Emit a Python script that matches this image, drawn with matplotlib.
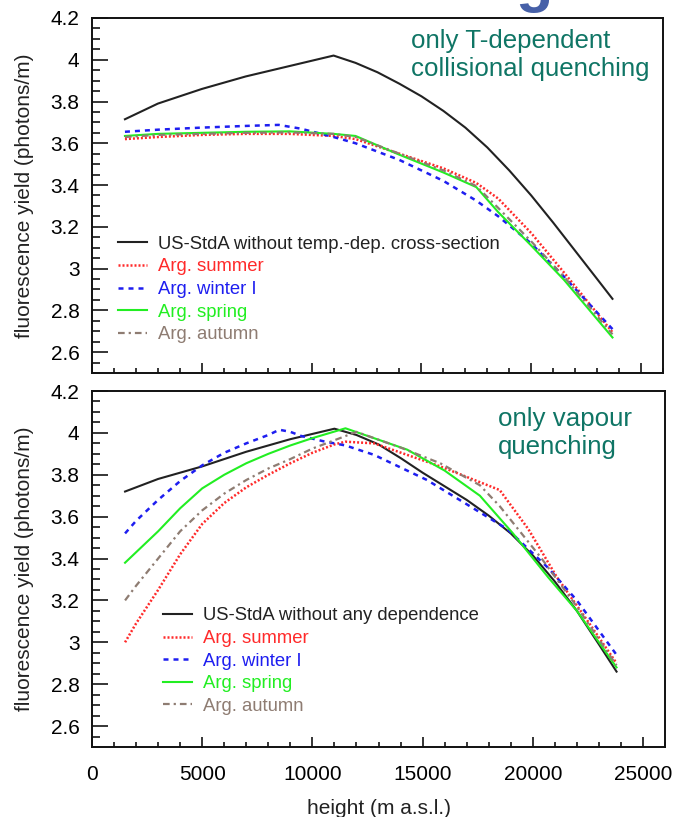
import matplotlib.pyplot as plt
import numpy as np

plt.rcParams['font.family'] = ['Liberation Sans', 'DejaVu Sans']

# --- top panel: only T-dependent collisional quenching ---
top_black_h = [1500, 3000, 5000, 7000, 9000, 11000, 12000, 13000, 14000, 15000, 16000, 17000,
               18000, 19000, 20000, 21000, 22000, 23000, 23700]
top_black_y = [3.715, 3.79, 3.86, 3.92, 3.97, 4.02, 3.985, 3.94, 3.885, 3.825, 3.755, 3.675,
               3.58, 3.47, 3.35, 3.22, 3.085, 2.95, 2.855]

top_h = [1500, 3000, 5000, 7000, 9000, 11000, 12000, 14000, 16000, 17500, 18500, 20000, 21500, 23700]
top_summer = [3.62, 3.63, 3.64, 3.645, 3.645, 3.635, 3.62, 3.55, 3.48, 3.41, 3.335, 3.17, 2.98, 2.695]
top_spring = [3.635, 3.645, 3.65, 3.655, 3.657, 3.645, 3.635, 3.545, 3.46, 3.39, 3.27, 3.11, 2.945, 2.67]
top_autumn = [3.63, 3.64, 3.645, 3.65, 3.652, 3.645, 3.63, 3.55, 3.47, 3.395, 3.29, 3.13, 2.96, 2.685]

top_winter_h = [1500, 3000, 5000, 7000, 8500, 9500, 11000, 12000, 14000, 16000, 17500, 18500, 20000, 21500, 23700]
top_winter = [3.655, 3.665, 3.675, 3.683, 3.688, 3.67, 3.63, 3.60, 3.52, 3.42, 3.325, 3.25, 3.12, 2.96, 2.71]

# --- bottom panel: only vapour quenching ---
bot_black_h = [1500, 3000, 5000, 7000, 9000, 11000, 12000, 13000, 14000, 15000, 16000, 17000,
               18000, 19000, 20000, 21000, 22000, 23000, 23800]
bot_black_y = [3.72, 3.78, 3.84, 3.91, 3.97, 4.02, 3.99, 3.945, 3.88, 3.81, 3.745, 3.68,
               3.605, 3.52, 3.415, 3.29, 3.15, 2.99, 2.86]

bot_summer_h = [1500, 2000, 3000, 4000, 5000, 6000, 7000, 8000, 9000, 10000, 11000, 11500,
                12800, 15800, 18500, 19800, 21100, 22500, 23800]
bot_summer = [3.00, 3.09, 3.25, 3.42, 3.565, 3.665, 3.74, 3.80, 3.855, 3.905, 3.945, 3.958,
              3.95, 3.84, 3.727, 3.54, 3.31, 3.10, 2.90]

bot_winter_h = [1500, 2000, 3000, 4000, 5000, 6000, 7000, 8000, 8500, 9000, 9500, 10500,
                11500, 12800, 15200, 17300, 18850, 20700, 22000, 23800]
bot_winter = [3.52, 3.58, 3.68, 3.77, 3.845, 3.905, 3.95, 3.99, 4.015, 4.005, 3.985, 3.96,
              3.94, 3.895, 3.775, 3.64, 3.54, 3.355, 3.20, 2.94]

bot_spring_h = [1500, 2000, 3000, 4000, 5000, 6000, 7000, 8000, 9000, 10000, 11500, 14300,
                16000, 17600, 19100, 20700, 22000, 23800]
bot_spring = [3.38, 3.43, 3.53, 3.64, 3.735, 3.80, 3.855, 3.90, 3.94, 3.975, 4.022, 3.92,
              3.82, 3.70, 3.52, 3.31, 3.15, 2.88]

bot_autumn_h = [1500, 2000, 3000, 4000, 5000, 6000, 7000, 8000, 9000, 10000, 11000, 12000,
                14000, 15800, 17600, 18500, 20400, 22000, 23800]
bot_autumn = [3.20, 3.27, 3.40, 3.53, 3.63, 3.71, 3.775, 3.83, 3.875, 3.925, 3.965, 4.005,
              3.93, 3.855, 3.75, 3.65, 3.40, 3.17, 2.89]

top_labels = ['US-StdA without temp.-dep. cross-section', 'Arg. summer', 'Arg. winter I',
              'Arg. spring', 'Arg. autumn']
bot_labels = ['US-StdA without any dependence', 'Arg. summer', 'Arg. winter I',
              'Arg. spring', 'Arg. autumn']

c_black = '#222222'
c_red = '#FF2A2A'
c_blue = '#1E1EF0'
c_green = '#22EE22'
c_gray = '#8E7C72'
c_teal = '#0F7565'

sty = {
    'black': dict(color=c_black, lw=1.5, ls='-'),
    'summer': dict(color=c_red, lw=1.8, ls=(0, (0.8, 0.8))),
    'winter': dict(color=c_blue, lw=1.8, ls=(0, (2, 2))),
    'spring': dict(color=c_green, lw=1.5, ls='-'),
    'autumn': dict(color=c_gray, lw=1.6, ls=(0, (3, 1.8, 1, 1.8))),
}

fig = plt.figure(figsize=(6.83, 8.17), dpi=100)
ax1 = fig.add_axes([0.1347, 0.5435, 0.836, 0.4345])
ax2 = fig.add_axes([0.1347, 0.0857, 0.839, 0.4357])


def style_ax(ax):
    ax.set_xlim(0, 26000)
    ax.set_ylim(2.5, 4.2)
    ax.set_xticks(np.arange(0, 26001, 5000))
    ax.set_xticks(np.arange(0, 26001, 1000), minor=True)
    ax.set_yticks([2.6, 2.8, 3.0, 3.2, 3.4, 3.6, 3.8, 4.0, 4.2])
    ax.set_yticks(np.arange(2.5, 4.201, 0.05), minor=True)
    ax.set_yticklabels(['2.6', '2.8', '3', '3.2', '3.4', '3.6', '3.8', '4', '4.2'])
    ax.tick_params(axis='y', which='major', direction='in', length=11.5, width=1.1,
                   labelsize=15, pad=9, right=False)
    ax.tick_params(axis='y', which='minor', direction='in', length=5.8, width=1.1, right=False)
    ax.tick_params(axis='x', which='major', direction='in', length=7.2, width=1.1,
                   labelsize=15, pad=13, top=False)
    ax.tick_params(axis='x', which='minor', direction='in', length=3.6, width=1.1, top=False)
    for s in ax.spines.values():
        s.set_linewidth(1.4)
        s.set_color('#111111')
    ax.set_ylabel('fluorescence yield (photons/m)', fontsize=15, labelpad=12, color='#222222')


style_ax(ax1)
style_ax(ax2)
ax1.tick_params(axis='x', labelbottom=False)

ax1.plot(top_black_h, top_black_y, label=top_labels[0], **sty['black'])
ax1.plot(top_h, top_summer, label=top_labels[1], **sty['summer'])
ax1.plot(top_winter_h, top_winter, label=top_labels[2], **sty['winter'])
ax1.plot(top_h, top_spring, label=top_labels[3], **sty['spring'])
ax1.plot(top_h, top_autumn, label=top_labels[4], **sty['autumn'])

ax2.plot(bot_black_h, bot_black_y, label=bot_labels[0], **sty['black'])
ax2.plot(bot_summer_h, bot_summer, label=bot_labels[1], **sty['summer'])
ax2.plot(bot_winter_h, bot_winter, label=bot_labels[2], **sty['winter'])
ax2.plot(bot_spring_h, bot_spring, label=bot_labels[3], **sty['spring'])
ax2.plot(bot_autumn_h, bot_autumn, label=bot_labels[4], **sty['autumn'])

text_colors = [c_black, c_red, c_blue, c_green, c_gray]
for ax, anchor in [(ax1, (0.0455, 0.386)), (ax2, (0.124, 0.392))]:
    leg = ax.legend(loc='upper left', bbox_to_anchor=anchor, frameon=False, fontsize=13.3,
                    handlelength=1.57, handletextpad=0.6, labelspacing=0.3,
                    borderpad=0, borderaxespad=0)
    for t, c in zip(leg.get_texts(), text_colors):
        t.set_color(c)

ax1.text(0.559, 0.969, 'only T-dependent\ncollisional quenching', transform=ax1.transAxes,
         fontsize=18.6, color=c_teal, ha='left', va='top')
ax2.text(0.7086, 0.955, 'only vapour\nquenching', transform=ax2.transAxes,
         fontsize=18.6, color=c_teal, ha='left', va='top')

ax2.set_xlabel('height (m a.s.l.)', fontsize=15, labelpad=11, color='#222222')

# bottom of a slide title letter cut off at the top edge
fig.text(0.7818, 1.0, 'g', fontsize=44, fontweight='bold', color='#4660A8',
         ha='center', va='baseline')

fig.savefig('out.png', dpi=100)
